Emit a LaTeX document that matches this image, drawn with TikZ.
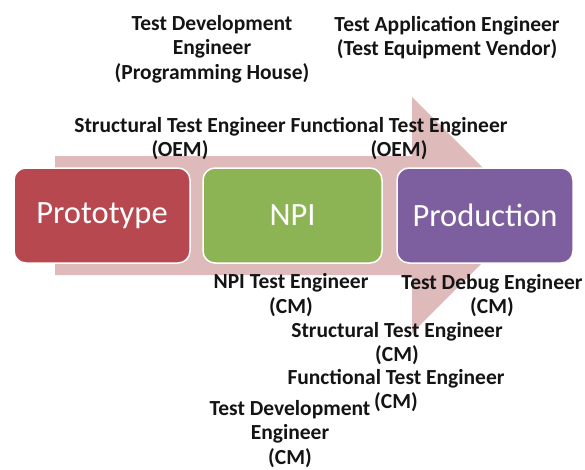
\documentclass[tikz,border=0pt]{standalone}
\usepackage{fontspec}
\setmainfont{Carlito}
\definecolor{arrowpink}{RGB}{222,186,187}
\definecolor{protored}{RGB}{184,72,80}
\definecolor{npigreen}{RGB}{141,180,84}
\definecolor{prodpurple}{RGB}{125,94,159}
\definecolor{roletext}{RGB}{20,20,20}
\begin{document}
\begin{tikzpicture}[x=1pt,y=-1pt,
  stage/.style={rounded corners=12pt, draw=white, line width=1.5pt,
    minimum height=95pt, inner sep=0pt, text=white,
    font=\fontsize{32.5}{38}\selectfont},
  role/.style={font=\bfseries\fontsize{21.5}{24.5}\selectfont, align=center,
    text=roletext, inner sep=0pt}]
\useasboundingbox (0,0) rectangle (585,469);
% big background arrow
\fill[arrowpink] (55,156) -- (412,156) -- (412,97) -- (530,215)
  -- (412,333) -- (412,275) -- (55,275) -- cycle;
% the three stages
\node[stage, fill=protored, minimum width=176pt] (proto) at (102,215.5) {Prototype};
\node[stage, fill=npigreen, minimum width=179pt] (npi) at (292.5,215.5) {NPI};
\node[stage, fill=prodpurple, minimum width=176pt] (prod) at (485,215.5) {Production};
% roles above the arrow
\node[role] (tdeph) at (212,49) {Test Development\\Engineer\\(Programming House)};
\node[role] (tae) at (447,37.5) {Test Application Engineer\\(Test Equipment Vendor)};
\node[role] (steoem) at (180,138.5) {Structural Test Engineer\\(OEM)};
\node[role] (fteoem) at (399,138.5) {Functional Test Engineer\\(OEM)};
% roles below the arrow
\node[role] (npite) at (291,295) {NPI Test Engineer\\(CM)};
\node[role] (tdbg) at (492,295.5) {Test Debug Engineer\\(CM)};
\node[role] (stecm) at (397,343.5) {Structural Test Engineer\\(CM)};
\node[role] (ftecm) at (396,390.5) {Functional Test Engineer\\(CM)};
\node[role] (tdecm) at (290,434) {Test Development\\Engineer\\(CM)};
\end{tikzpicture}
\end{document}
